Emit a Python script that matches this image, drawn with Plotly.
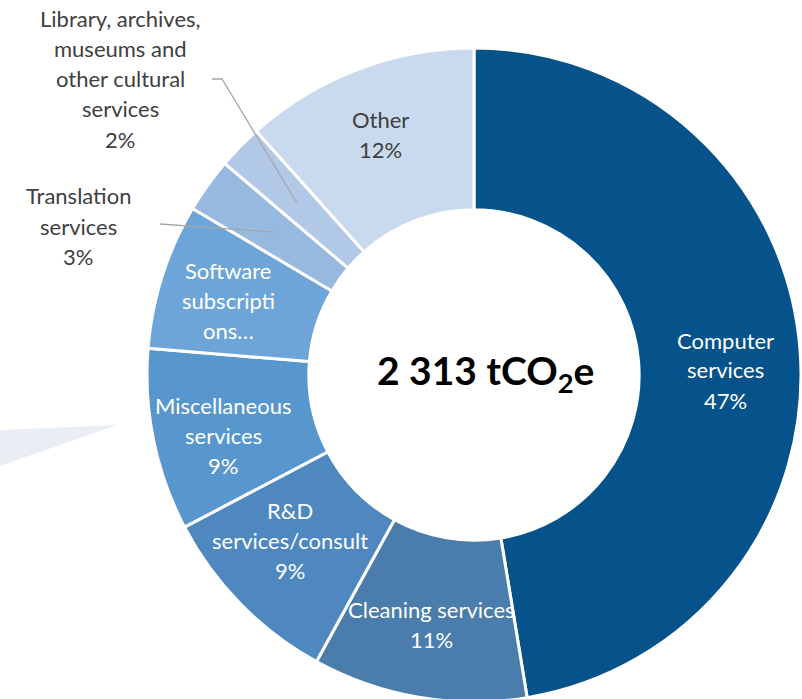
import plotly.graph_objects as go

W, H = 802, 699
FIG_H = 704  # slightly taller than the window so the ring is cropped at the bottom as in the reference

# ---- data ----
categories = ["Computer services", "Cleaning services", "R&D services/consult",
              "Miscellaneous services", "Software subscriptions",
              "Translation services",
              "Library, archives, museums and other cultural services", "Other"]
values = [47.4, 10.6, 9.3, 9.0, 7.2, 2.7, 2.2, 11.6]
slice_colors = ["#06528A", "#4A7DAB", "#4E88BF", "#5896CE", "#6EA5D9",
                "#97B9E0", "#B1C8E6", "#C9D9EE"]
# label lines as shown on the chart
label_lines = [
    ["Computer", "services", "47%"],
    ["Cleaning services", "11%"],
    ["R&D", "services/consult", "9%"],
    ["Miscellaneous", "services", "9%"],
    ["Software", "subscripti", "ons…"],
    ["Translation", "services", "3%"],
    ["Library, archives,", "museums and", "other cultural", "services", "2%"],
    ["Other", "12%"],
]
label_colors = ["white", "white", "white", "white", "white", "#404040", "#404040", "#404040"]
# label anchor (pixel centre x, first-line y)
label_pos = [(725, 340), (431, 609), (290, 510), (223, 405), (228, 270),
             (78, 196), (120, 19), (380, 119)]
line_step = 30
center_text = "2 313 tCO<sub>2</sub>e"

FONT = "Lato, 'Open Sans', sans-serif"

def px(x):
    return x / W

def py(y):
    return 1 - y / FIG_H

cx, cy, R = 474, 375, 327

fig = go.Figure(go.Pie(
    labels=categories,
    values=values,
    sort=False,
    direction="clockwise",
    rotation=0,
    hole=0.505,
    textinfo="none",
    hoverinfo="label+percent",
    marker=dict(colors=slice_colors, line=dict(color="white", width=3)),
    domain=dict(x=[px(cx - R), px(cx + R)], y=[py(cy + R), py(cy - R)]),
    showlegend=False,
))

annotations = []
for lines, (x, y0), col in zip(label_lines, label_pos, label_colors):
    for i, t in enumerate(lines):
        annotations.append(dict(
            x=px(x), y=py(y0 + i * line_step), xref="paper", yref="paper",
            text=t, showarrow=False, xanchor="center", yanchor="middle",
            font=dict(family=FONT, size=22, color=col)))

annotations.append(dict(
    x=px(485), y=py(373), xref="paper", yref="paper", text="<b>" + center_text + "</b>",
    showarrow=False, xanchor="center", yanchor="middle",
    font=dict(family=FONT, size=39, color="black")))

shapes = [
    # decorative arrow tip at the left
    dict(type="path", xref="paper", yref="paper",
         path=f"M {px(0)},{py(430)} L {px(117)},{py(425)} L {px(0)},{py(466)} Z",
         fillcolor="#E9EEF5", line=dict(width=0), layer="below"),
    # leader line: Library
    dict(type="path", xref="paper", yref="paper",
         path=f"M {px(212)},{py(79)} L {px(222)},{py(79)} L {px(297)},{py(203)}",
         line=dict(color="#A6A6A6", width=1.3)),
    # leader line: Translation
    dict(type="path", xref="paper", yref="paper",
         path=f"M {px(160)},{py(224)} L {px(273)},{py(232)}",
         line=dict(color="#A6A6A6", width=1.3)),
]

fig.update_layout(
    width=W, height=FIG_H,
    margin=dict(l=0, r=0, t=0, b=0),
    paper_bgcolor="white", plot_bgcolor="white",
    annotations=annotations, shapes=shapes,
)

fig.write_html("out.html", config={"displayModeBar": False},
               post_script="document.body.style.margin='0';document.body.style.padding='0';document.body.style.overflow='hidden';")
